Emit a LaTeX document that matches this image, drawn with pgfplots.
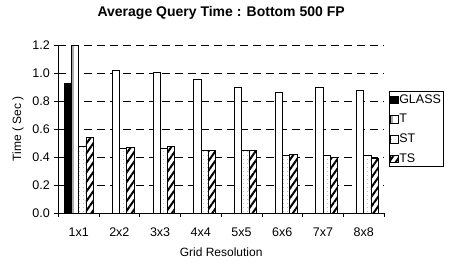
\documentclass[border=0pt]{standalone}
\usepackage{fontspec}
\setmainfont{Liberation Sans}
\usepackage{pgfplots}
\pgfplotsset{compat=1.18}
\usetikzlibrary{patterns,patterns.meta}
\begin{document}
\begin{tikzpicture}
\path[use as bounding box] (-58.3pt,-54pt) rectangle (392.7pt,213pt);
\begin{axis}[
  at={(0pt,0pt)}, anchor=south west,
  scale only axis, width=325.7pt, height=168pt,
  xmin=-0.5, xmax=7.5, ymin=0, ymax=1.2,
  axis lines*=left, axis line style={-, line width=0.6pt},
  ybar=0pt, bar width=7.3pt,
  xtick={0,1,2,3,4,5,6,7},
  xticklabels={1x1,2x2,3x3,4x4,5x5,6x6,7x7,8x8},
  major x tick style={draw=none},
  minor xtick={-0.5,0.5,1.5,2.5,3.5,4.5,5.5,6.5,7.5},
  minor x tick style={black, line width=0.6pt},
  minor tick length=4pt,
  tick align=outside,
  major tick length=4pt,
  ytick={0,0.2,0.4,0.6,0.8,1.0,1.2},
  y tick style={black, line width=0.6pt},
  ymajorgrids, grid style={black, line width=0.6pt, dash pattern=on 8pt off 5pt},
  yticklabel style={/pgf/number format/fixed, /pgf/number format/fixed zerofill, /pgf/number format/precision=1, xshift=-1pt},
  /pgf/number format/assume math mode=true,
  tick label style={font=\fontsize{12.5}{14}\selectfont},
  xticklabel style={yshift=-7pt},
  ylabel={Time ( Sec )}, ylabel style={font=\fontsize{12}{14}\selectfont, yshift=2pt},
  xlabel={Grid Resolution}, xlabel style={font=\fontsize{12}{14}\selectfont, yshift=-5pt},
  title={\textbf{Average Query Time : Bottom 500 FP}},
  title style={font=\fontsize{14}{16}\selectfont, yshift=16pt},
  legend style={at={(1.0154,0.725)}, anchor=north west, draw=black, line width=0.5pt,
    font=\fontsize{12.5}{14}\selectfont, inner sep=1pt, row sep=5.5pt, cells={anchor=west},
    nodes={inner xsep=1pt}},
  legend image code/.code={\draw[#1,draw=black,line width=0.5pt] (0pt,-4pt) rectangle (7.5pt,3.5pt);},
  every axis plot/.append style={draw=black, line width=0.5pt},
]
\addplot[fill=black] coordinates {(0,0.926)};
\addplot[fill=white, path picture={\fill[gray!65, path picture={}, draw=none] ([xshift=0.8pt]path picture bounding box.south west) rectangle ([xshift=2.6pt]path picture bounding box.north west);}] coordinates {(0,1.2) (1,1.019) (2,1.005) (3,0.955) (4,0.895) (5,0.862) (6,0.895) (7,0.876)};
\addplot[fill=white, postaction={pattern={Dots[distance=4pt,radius=0.45pt]}, pattern color=gray}] coordinates {(0,0.474) (1,0.462) (2,0.464) (3,0.445) (4,0.447) (5,0.412) (6,0.416) (7,0.412)};
\addplot[fill=white, postaction={pattern={Lines[angle=55,distance=5.5pt,line width=2pt]}}] coordinates {(0,0.54) (1,0.469) (2,0.476) (3,0.445) (4,0.447) (5,0.419) (6,0.398) (7,0.388)};
\legend{GLASS,T,ST,TS}
\end{axis}
\end{tikzpicture}
\end{document}
